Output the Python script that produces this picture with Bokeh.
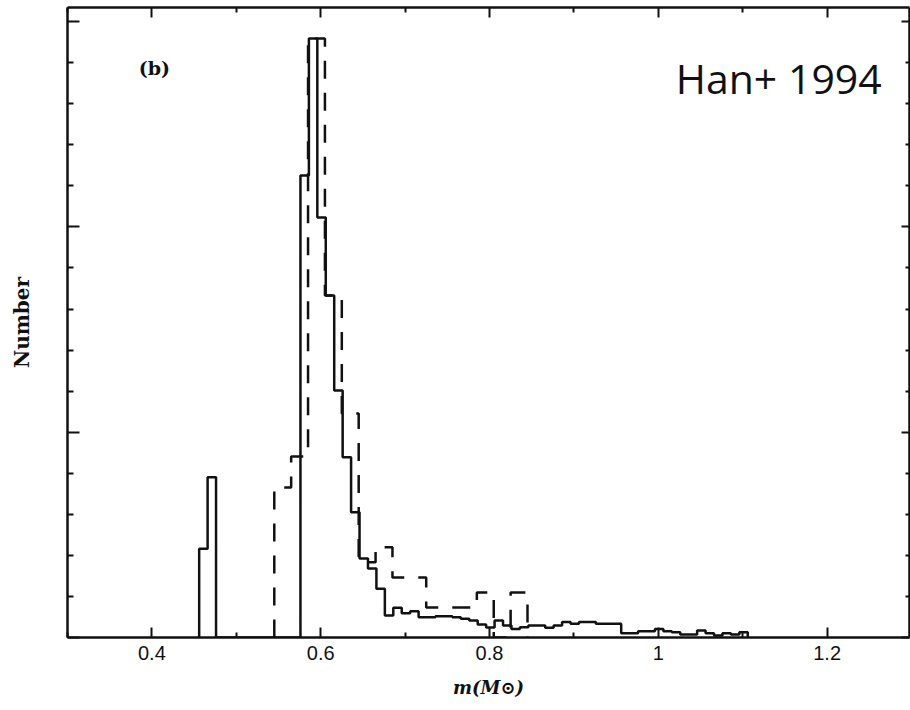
from bokeh.plotting import figure
from bokeh.models import LinearAxis, Range1d, Label, FixedTicker, CustomJSTickFormatter
from bokeh.embed import file_html
from bokeh.resources import INLINE

# ---------------- data ----------------
# solid histogram: uniform bins of width 0.01 starting at 0.456
solid_start = 0.456
solid_width = 0.01
solid_counts = [
    43.2, 78.1,
    0, 0, 0, 0, 0, 0, 0, 0, 0, 0,
    225.0, 291.8, 204.6, 166.6, 120.3, 87.8, 61.0, 38.5, 33.6, 23.7,
    10.7, 14.5, 11.8, 12.8, 9.9, 9.9, 10.4, 10.4, 9.9, 9.1,
    8.3, 6.3, 4.9, 8.3, 5.8, 4.2, 5.0, 5.8, 5.8, 4.7,
    5.8, 7.5, 6.7, 7.5, 7.5, 6.7, 6.7, 6.7, 2.1, 2.1,
    3.1, 3.1, 4.2, 3.1, 2.6, 1.5, 1.5, 3.4, 2.1, 1.0,
    2.1, 1.5, 2.6,
]

# dashed histogram: uniform bins of width 0.02 starting at 0.545
dashed_start = 0.545
dashed_width = 0.02
dashed_counts = [
    73.1, 88.2, 291.8, 166.6, 109.1, 36.7, 44.0, 29.2, 29.2, 14.6,
    14.6, 14.6, 21.9, 0.0, 21.9,
]

x_major = [0.4, 0.6, 0.8, 1.0, 1.2]
x_minor = [0.3, 0.5, 0.7, 0.9, 1.1]
y_major = [0, 100, 200, 300]
y_minor = [20, 40, 60, 80, 120, 140, 160, 180, 220, 240, 260, 280]

x_label = "m(M\u2299)"
y_label = "Number"
panel_tag = "(b)"
source_note = "Han+ 1994"


def step_points(start, width, counts):
    edges = [start + i * width for i in range(len(counts) + 1)]
    xs = [edges[0]] + edges
    ys = [0.0] + list(counts) + [0.0]
    return xs, ys


INK = "#111111"

p = figure(
    width=910, height=710,
    x_range=Range1d(0.3, 1.2976), y_range=Range1d(0, 306.9),
    output_backend="svg", toolbar_location=None,
    min_border_left=67, min_border_right=1, min_border_top=7, min_border_bottom=73,
    background_fill_color="white", border_fill_color="white",
)
p.title.visible = False
p.outline_line_color = None
p.xgrid.grid_line_color = None
p.ygrid.grid_line_color = None

xt = FixedTicker(ticks=x_major, minor_ticks=x_minor)
yt = FixedTicker(ticks=y_major, minor_ticks=y_minor)
fmt = CustomJSTickFormatter(code="return tick.toFixed(1).replace(/\\.0$/, '');")

top = LinearAxis(ticker=xt)
right = LinearAxis(ticker=yt)
p.add_layout(top, "above")
p.add_layout(right, "right")


def style_axis(ax, major_in, minor_in):
    ax.axis_line_color = INK
    ax.axis_line_width = 2.5
    ax.major_tick_line_color = INK
    ax.minor_tick_line_color = INK
    ax.major_tick_line_width = 2
    ax.minor_tick_line_width = 2
    ax.major_tick_in = major_in
    ax.major_tick_out = 0
    ax.minor_tick_in = minor_in
    ax.minor_tick_out = 0


def hide_labels(ax):
    ax.major_label_text_font_size = "1px"
    ax.major_label_text_color = None
    ax.major_label_standoff = 0


for ax in p.below:
    ax.ticker = xt
    ax.formatter = fmt
    style_axis(ax, 10, 5)
    ax.major_label_text_font = "Liberation Sans"
    ax.major_label_text_font_size = "20px"
    ax.major_label_text_color = INK
    ax.major_label_standoff = 8
    ax.axis_label = x_label
    ax.axis_label_text_font = "DejaVu Serif"
    ax.axis_label_text_font_style = "bold italic"
    ax.axis_label_text_font_size = "18px"
    ax.axis_label_text_color = INK
    ax.axis_label_standoff = 14

for ax in p.left:
    ax.ticker = yt
    style_axis(ax, 12, 6)
    hide_labels(ax)
    ax.axis_label = y_label
    ax.axis_label_text_font = "DejaVu Serif"
    ax.axis_label_text_font_style = "bold"
    ax.axis_label_text_font_size = "20px"
    ax.axis_label_text_color = INK
    ax.axis_label_standoff = 34

style_axis(top, 10, 5)
hide_labels(top)
style_axis(right, 8, 4)
hide_labels(right)

# histograms
sx, sy = step_points(solid_start, solid_width, solid_counts)
dx, dy = step_points(dashed_start, dashed_width, dashed_counts)
p.step(dx, dy, mode="after", line_color=INK, line_width=2.5, line_dash="18 14")
p.step(sx, sy, mode="after", line_color=INK, line_width=2.5)

p.add_layout(Label(x=0.3844, y=277.2, text=panel_tag, text_font="DejaVu Serif",
                   text_font_style="bold", text_font_size="19px", text_color=INK,
                   text_baseline="alphabetic"))
p.add_layout(Label(x=1.2647, y=272.8, text=source_note, text_font="Open Sans",
                   text_font_size="41px", text_color="#111111", text_align="right",
                   text_baseline="alphabetic"))

open("out.html", "w").write(file_html(p, INLINE))
